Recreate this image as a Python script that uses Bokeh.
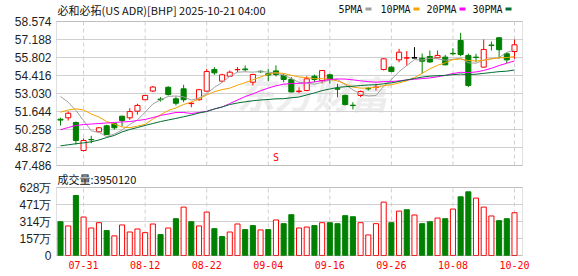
from bokeh.plotting import figure
from bokeh.models import (ColumnDataSource, Range1d, FixedTicker, Label,
                          BoxAnnotation, CustomJSTickFormatter)
from bokeh.embed import file_html
from bokeh.resources import INLINE

# ---------------- data ----------------
title_text = "必和必拓(US ADR)[BHP] 2025-10-21 04:00"
date_ticks = [3, 11, 19, 27, 35, 43, 51, 59]
date_labels = ["07-31", "08-12", "08-22", "09-04", "09-16", "09-26", "10-08", "10-20"]

opens = [51.05, 51.16, 50.80, 48.64, 49.49, 50.08, 50.54, 50.70, 51.28, 51.16,
         51.67, 52.55, 53.22, 52.60, 53.51, 52.62, 53.39, 52.25, 52.55, 53.21,
         54.88, 53.98, 54.36, 54.86, 54.92, 53.90, 54.74, 54.55, 54.77, 54.42,
         54.12, 53.18, 53.26, 54.36, 54.03, 54.47, 53.40, 52.88, 52.13, 52.88,
         53.42, 53.49, 54.88, 55.06, 55.62, 55.76, 55.78, 55.75, 55.88, 55.78,
         55.83, 56.12, 57.11, 55.96, 55.83, 55.06, 56.76, 57.32, 56.09, 56.26]
highs = [51.16, 51.64, 50.87, 49.57, 49.77, 50.45, 50.62, 50.74, 51.33, 51.90,
         52.24, 52.92, 53.60, 52.75, 53.59, 52.80, 53.70, 52.36, 53.39, 54.93,
         55.06, 54.55, 54.80, 55.06, 55.19, 54.55, 54.80, 54.93, 55.19, 54.55,
         54.30, 53.51, 54.36, 54.49, 54.85, 54.55, 53.78, 52.95, 52.36, 53.26,
         53.51, 53.78, 55.75, 55.13, 56.47, 56.30, 56.60, 56.11, 56.34, 56.34,
         56.01, 56.52, 57.70, 56.09, 56.09, 57.19, 57.03, 57.37, 56.21, 57.19]
lows = [50.57, 50.95, 49.10, 48.57, 49.20, 50.03, 49.82, 50.24, 50.51, 51.00,
        51.41, 52.53, 53.14, 52.41, 52.87, 52.11, 52.36, 51.97, 52.47, 53.18,
        54.47, 53.90, 54.34, 54.67, 54.72, 53.65, 54.62, 53.98, 54.34, 53.90,
        53.13, 53.05, 53.21, 53.90, 53.80, 53.78, 52.75, 52.11, 51.80, 52.75,
        53.26, 53.26, 54.80, 54.67, 55.44, 55.15, 55.75, 54.57, 55.39, 55.75,
        55.19, 55.96, 55.90, 53.52, 55.44, 55.01, 56.34, 55.70, 55.36, 55.70]
closes = [50.98, 51.51, 49.41, 49.41, 49.47, 50.39, 49.87, 50.39, 50.95, 51.64,
          52.11, 52.88, 53.53, 52.55, 52.95, 52.28, 52.55, 52.28, 53.32, 54.72,
          54.62, 54.47, 54.67, 54.88, 54.86, 54.49, 54.70, 54.45, 54.49, 54.11,
          53.15, 53.22, 54.16, 54.11, 54.80, 54.11, 53.36, 52.18, 52.10, 53.18,
          53.39, 53.52, 55.70, 54.72, 56.21, 55.78, 55.78, 55.52, 55.46, 55.96,
          55.24, 56.09, 56.03, 53.65, 55.80, 56.42, 56.73, 56.40, 55.62, 56.78]
volumes = [3120000, 2730000, 5540000, 3550000, 2540000, 3030000, 2300000, 1810000,
           2820000, 2170000, 2450000, 2110000, 2910000, 1930000, 2540000, 3400000,
           4470000, 3120000, 2730000, 4010000, 2480000, 1750000, 2170000, 2910000,
           2390000, 2760000, 2360000, 2390000, 3280000, 2940000, 3770000, 2540000,
           2630000, 2760000, 3030000, 3030000, 2940000, 3680000, 3580000, 3030000,
           1900000, 2940000, 4930000, 3030000, 4100000, 4230000, 3740000, 2940000,
           3120000, 3460000, 3400000, 4290000, 5420000, 5880000, 5300000, 4470000,
           3650000, 3220000, 3400000, 3950120]

# moving-average values before a full window exists inside the shown range
ma5_head = [52.80, 52.36, 51.72, 50.95]
ma10_head = [51.59, 51.76, 51.85, 51.76, 51.45, 51.22, 50.87, 50.68, 50.45]
ma20_head = [50.24, 50.41, 50.57, 50.64, 50.68, 50.72, 50.76, 50.80, 50.84, 50.87,
             50.95, 51.03, 51.18, 51.34, 51.45, 51.57, 51.57, 51.49, 51.57]
ma30_head = [49.00, 49.08, 49.16, 49.23, 49.31, 49.45, 49.64, 49.80, 50.07, 50.26,
             50.41, 50.57, 50.72, 50.87, 50.99, 51.11, 51.24, 51.37, 51.53, 51.64,
             51.84, 51.99, 52.18, 52.30, 52.39, 52.47, 52.53, 52.57, 52.62]

price_ticks = [47.486, 48.872, 50.258, 51.644, 53.030, 54.416, 55.802, 57.188, 58.574]
vol_ticks = [0, 1570000, 3140000, 4710000, 6280000]
vol_tick_labels = ["0", "157万", "314万", "471万", "628万"]
ma_names = ["5PMA", "10PMA", "20PMA", "30PMA"]
dividend_index = 28

# ---------------- layout constants (pixels) ----------------
W, H = 578, 276
FRAME_L, FRAME_R, FRAME_B = 55, 55, 20          # borders around the drawing frame
FRAME_H = H - FRAME_B                           # frame spans canvas y 0..256
PRICE_TOP, PRICE_BOT = 21, 165                  # price panel inside frame (canvas y)
VOL_TOP, VOL_BOT = 187, 255                     # volume panel inside frame (canvas y)
X_LO, X_HI = -0.52, 60.04                       # panel x extent (index units)

n = len(closes)
idx = list(range(n))

p_lo, p_hi = price_ticks[0], price_ticks[-1]
p_per_px = (p_hi - p_lo) / (PRICE_BOT - PRICE_TOP)
y_range = Range1d(p_lo - (FRAME_H - PRICE_BOT) * p_per_px, p_hi + PRICE_TOP * p_per_px)
v_hi = vol_ticks[-1]
v_per_px = v_hi / (VOL_BOT - VOL_TOP)
vol_range = Range1d(-(FRAME_H - VOL_BOT) * v_per_px, v_hi + VOL_TOP * v_per_px)
x_per_px = (X_HI - X_LO) / (W - FRAME_L - FRAME_R - 2)
x_range = Range1d(X_LO - x_per_px, X_HI + x_per_px)


def vol_on_price_axis(v):
    px = VOL_BOT - v / v_per_px
    return p_hi - (px - PRICE_TOP) * p_per_px


def moving_avg(head, w):
    out = list(head)
    for i in range(len(head), n):
        out.append(sum(closes[i - w + 1:i + 1]) / w)
    return out


ma_series = [moving_avg(ma5_head, 5), moving_avg(ma10_head, 10),
             moving_avg(ma20_head, 20), moving_avg(ma30_head, 30)]
ma_colors = ["#a0a0a0", "#f5a300", "#ff00ff", "#006e32"]

RED, GREEN, BLACK = "#ff0000", "#008000", "#000000"
ccol, cfill = [], []
for o, c in zip(opens, closes):
    if c > o:
        ccol.append(RED); cfill.append("white")
    elif c < o:
        ccol.append(GREEN); cfill.append(GREEN)
    else:
        ccol.append(BLACK); cfill.append(BLACK)

vcol, vfill = [], []
for i in range(n):
    up = closes[i] >= (closes[i - 1] if i > 0 else opens[i])
    vcol.append(RED if up else GREEN)
    vfill.append("white" if up else GREEN)

src = ColumnDataSource(dict(
    x=idx, o=opens, h=highs, l=lows, c=closes,
    top=[max(a, b) for a, b in zip(opens, closes)],
    bot=[min(a, b) for a, b in zip(opens, closes)],
    color=ccol, fill=cfill, vol=volumes, vcolor=vcol, vfill=vfill))
doji = [i for i in idx if opens[i] == closes[i]]
doji_src = ColumnDataSource(dict(x0=[i - 0.33 for i in doji], x1=[i + 0.33 for i in doji],
                                 y=[closes[i] for i in doji], color=[ccol[i] for i in doji]))

AXIS_TEXT = "#1e1e1e"
GRID = "#d0d0d0"
BORDER = "#999999"

p = figure(width=W, height=H, x_range=x_range, y_range=y_range,
           output_backend="svg", toolbar_location=None, title=None,
           min_border_left=FRAME_L, min_border_right=FRAME_R,
           min_border_top=0, min_border_bottom=FRAME_B)
p.extra_y_ranges = {"vol": vol_range}
p.outline_line_color = None
p.xgrid.visible = False
p.ygrid.visible = False
p.background_fill_color = "white"
p.border_fill_color = "white"

# left axis: price ticks and volume ticks share the one axis
axis_pos = price_ticks + [vol_on_price_axis(v) for v in vol_ticks]
axis_lab = ["%.3f" % t for t in price_ticks] + vol_tick_labels
p.yaxis.ticker = FixedTicker(ticks=axis_pos)
p.yaxis.formatter = CustomJSTickFormatter(args=dict(pos=axis_pos, lab=axis_lab), code="""
let best = 0, d = Infinity;
for (let i = 0; i < pos.length; i++) {
  const e = Math.abs(pos[i] - tick);
  if (e < d) { d = e; best = i; }
}
return lab[best];
""")
p.xaxis.ticker = FixedTicker(ticks=date_ticks)
p.xaxis.major_label_overrides = {t: s for t, s in zip(date_ticks, date_labels)}
for ax in list(p.yaxis) + list(p.xaxis):
    ax.major_tick_in = 0
    ax.major_tick_out = 0
    ax.minor_tick_in = 0
    ax.minor_tick_out = 0
    ax.axis_line_color = None
    ax.major_label_standoff = 4
for ax in p.yaxis:
    ax.major_label_text_font = "Liberation Sans"
    ax.major_label_text_font_size = "12px"
    ax.major_label_text_color = AXIS_TEXT
for ax in p.xaxis:
    ax.major_label_text_font = "DejaVu Sans Mono"
    ax.major_label_text_font_size = "10px"
    ax.major_label_text_color = RED

# grid lines of both panels
p.segment(x0=X_LO, x1=X_HI, y0=price_ticks, y1=price_ticks, line_color=GRID, line_width=1)
p.segment(x0=date_ticks, x1=date_ticks, y0=p_lo, y1=p_hi, line_color=GRID,
          line_width=1, line_dash="4 3")
p.segment(x0=X_LO, x1=X_HI, y0=vol_ticks, y1=vol_ticks, line_color=GRID, line_width=1,
          y_range_name="vol")
p.segment(x0=date_ticks, x1=date_ticks, y0=0, y1=v_hi, line_color=GRID,
          line_width=1, line_dash="4 3", y_range_name="vol")

# watermark
p.add_layout(Label(x=181, y=FRAME_H - 92, x_units="screen", y_units="screen", text="东方财富",
                   text_font="Noto Sans CJK SC", text_font_size="38px",
                   text_font_style="bold italic", text_color="#ededed",
                   text_baseline="middle", level="underlay"))

# candles
p.segment(x0="x", y0="h", x1="x", y1="l", line_color="color", line_width=1, source=src)
p.vbar(x="x", width=0.66, top="top", bottom="bot", fill_color="fill",
       line_color="color", line_width=1, source=src)
p.segment(x0="x0", y0="y", x1="x1", y1="y", line_color="color", line_width=1, source=doji_src)

for ma, col in zip(ma_series, ma_colors):
    p.line(idx, ma, line_color=col, line_width=1)

# volume bars
p.vbar(x="x", width=0.66, top="vol", bottom=0, fill_color="vfill",
       line_color="vcolor", line_width=1, source=src, y_range_name="vol")

# panel borders
p.add_layout(BoxAnnotation(left=X_LO, right=X_HI, bottom=p_lo, top=p_hi,
                           fill_alpha=0, line_color=BORDER, line_width=1))
p.add_layout(BoxAnnotation(left=X_LO, right=X_HI, bottom=0, top=v_hi, y_range_name="vol",
                           fill_alpha=0, line_color=BORDER, line_width=1))

# title + legend
p.add_layout(Label(x=57 - FRAME_L, y=FRAME_H - 9, x_units="screen", y_units="screen",
                   text=title_text, text_font="Noto Sans CJK SC", text_font_size="11px",
                   text_color="#111111", text_baseline="middle"))
leg_x = [338, 380, 426, 472]
for name, col, lx in zip(ma_names, ma_colors, leg_x):
    sx = lx - FRAME_L
    p.add_layout(Label(x=sx, y=FRAME_H - 9, x_units="screen", y_units="screen", text=name,
                       text_font="DejaVu Sans Mono", text_font_size="10px",
                       text_color="#111111", text_baseline="middle"))
    w = 6.0 * len(name) + 3
    p.add_layout(BoxAnnotation(left=sx + w, right=sx + w + 6,
                               bottom=FRAME_H - 10, top=FRAME_H - 7,
                               left_units="screen", right_units="screen",
                               bottom_units="screen", top_units="screen",
                               fill_color=col, fill_alpha=1, line_color=None))

p.add_layout(Label(x=dividend_index, y=FRAME_H - 157, y_units="screen", text="S",
                   text_font="DejaVu Sans Mono", text_font_size="10px",
                   text_color=RED, text_align="center", text_baseline="middle"))

p.add_layout(Label(x=57 - FRAME_L, y=FRAME_H - 178, x_units="screen", y_units="screen",
                   text="成交量:%d" % volumes[-1], text_font="Noto Sans CJK SC",
                   text_font_size="11px", text_color="#111111", text_baseline="middle"))

open("out.html", "w").write(file_html(p, INLINE))
